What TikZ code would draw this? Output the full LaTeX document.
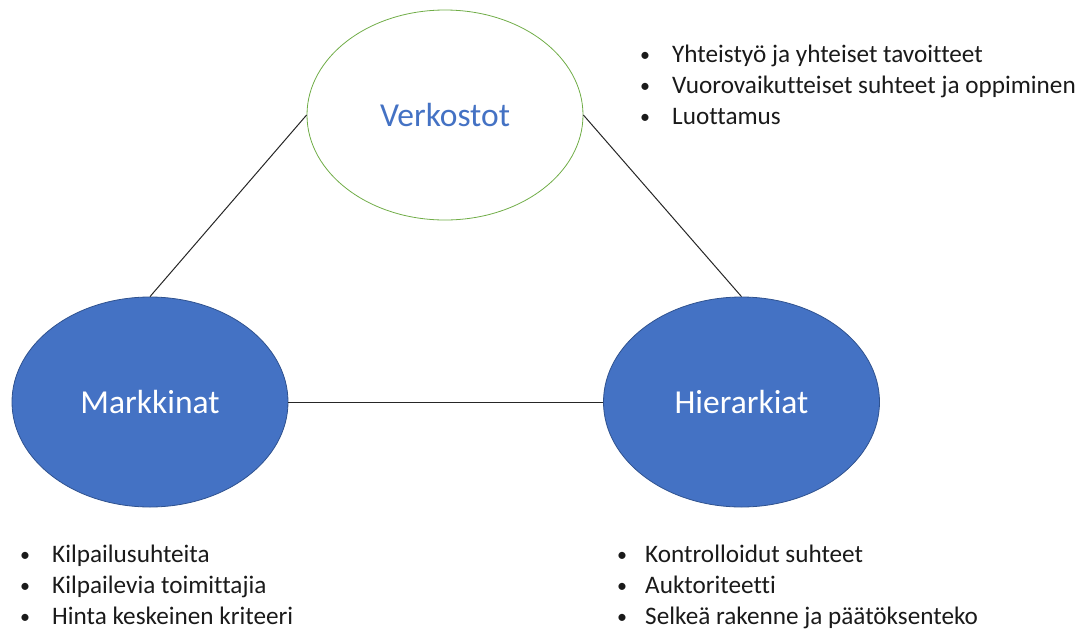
\documentclass[tikz,border=0pt]{standalone}
\usepackage{fontspec}
\setmainfont{Carlito}[Ligatures={NoCommon}]
\usetikzlibrary{shapes.geometric}
\definecolor{accblue}{HTML}{4472C4}
\definecolor{accborder}{HTML}{2F528F}
\definecolor{accgreen}{HTML}{70AD47}
\definecolor{txt}{HTML}{1A1A1A}
\tikzset{
  bigoval/.style={ellipse, minimum width=276pt, minimum height=210pt, inner sep=0pt, line width=0.8pt},
  filledoval/.style={bigoval, fill=accblue, draw=accborder, text=white, font=\fontsize{33.5}{40}\selectfont},
  openoval/.style={bigoval, fill=white, draw=accgreen, text=accblue, font=\fontsize{33.5}{40}\selectfont},
  link/.style={line width=1pt, draw=black!85},
  bul/.style={anchor=base, inner sep=0pt, text=txt, font=\fontsize{20}{24}\selectfont},
  item/.style={anchor=base west, inner sep=0pt, text=txt, font=\fontsize{25.2}{30}\selectfont},
}
\begin{document}
\begin{tikzpicture}[x=1pt,y=-1pt]
\useasboundingbox (0,0) rectangle (1088,630);
\node[openoval] (verk) at (445,115) {Verkostot};
\node[filledoval] (mark) at (150,402) {Markkinat};
\node[filledoval] (hier) at (741.5,402) {Hierarkiat};
\draw[link] (verk.west) -- (mark.north);
\draw[link] (verk.east) -- (hier.north);
\draw[link] (mark.east) -- (hier.west);
% top right list
\node[bul] (b1) at (645,61) {\textbullet};
\node[item] (t1) at (672,62) {Yhteistyö ja yhteiset tavoitteet};
\node[bul] (b2) at (645,92) {\textbullet};
\node[item] (t2) at (672,93) {Vuorovaikutteiset suhteet ja oppiminen};
\node[bul] (b3) at (645,123) {\textbullet};
\node[item] (t3) at (672,124) {Luottamus};
% bottom left list
\node[bul] (b4) at (25,561) {\textbullet};
\node[item] (t4) at (52,562) {Kilpailusuhteita};
\node[bul] (b5) at (25,592) {\textbullet};
\node[item] (t5) at (52,593) {Kilpailevia toimittajia};
\node[bul] (b6) at (25,623) {\textbullet};
\node[item] (t6) at (52,624) {Hinta keskeinen kriteeri};
% bottom right list
\node[bul] (b7) at (622,561) {\textbullet};
\node[item] (t7) at (645,562) {Kontrolloidut suhteet};
\node[bul] (b8) at (622,592) {\textbullet};
\node[item] (t8) at (645,593) {Auktoriteetti};
\node[bul] (b9) at (622,623) {\textbullet};
\node[item] (t9) at (645,624) {Selkeä rakenne ja päätöksenteko};
\end{tikzpicture}
\end{document}
